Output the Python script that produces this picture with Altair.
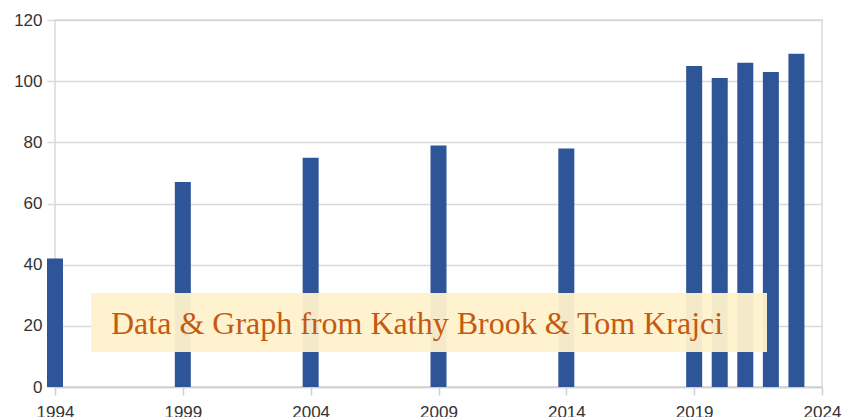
import altair as alt
import pandas as pd

years = [1994, 1999, 2004, 2009, 2014, 2019, 2020, 2021, 2022, 2023]
values = [42, 67, 75, 79, 78, 105, 101, 106, 103, 109]
x_ticks = [1994, 1999, 2004, 2009, 2014, 2019, 2024]
y_ticks = [0, 20, 40, 60, 80, 100, 120]
note = "Data & Graph from Kathy Brook & Tom Krajci"

df = pd.DataFrame({"year": years, "value": values})

W, H = 767, 367

bars = alt.Chart(df).mark_bar(size=16, color="#2E5597").encode(
    x=alt.X("year:Q", scale=alt.Scale(domain=[1994, 2024], nice=False, zero=False, padding=0),
            axis=alt.Axis(values=x_ticks, format="d", title=None, grid=False,
                          labelFlush=False, labelOverlap=False,
                          tickSize=8, tickColor="#d0d0d0", tickWidth=1.5,
                          domainColor="#d0d0d0", domainWidth=1.5,
                          labelPadding=9, labelFontSize=17, labelFont="Liberation Sans",
                          labelColor="#333333")),
    y=alt.Y("value:Q", scale=alt.Scale(domain=[0, 120], nice=False),
            axis=alt.Axis(values=y_ticks, title=None, grid=True, gridColor="#d9d9d9",
                          gridWidth=1.5, domain=False, labelFlush=False,
                          tickSize=8, tickColor="#d9d9d9", tickWidth=1.5,
                          labelPadding=5, labelFontSize=17, labelFont="Liberation Sans",
                          labelColor="#333333")),
)

box = alt.Chart(pd.DataFrame({"t": [note]})).mark_rect(color="#FFF2CC", opacity=0.95).encode(
    x=alt.value(36), x2=alt.value(712), y=alt.value(273), y2=alt.value(332)
)

label = alt.Chart(pd.DataFrame({"t": [note]})).mark_text(
    font="Liberation Serif", fontSize=32, color="#C55A11", align="left", baseline="alphabetic"
).encode(x=alt.value(56), y=alt.value(314), text="t:N")

chart = alt.layer(bars, box, label).properties(
    width=W, height=H,
    autosize=alt.AutoSizeParams(type="none"),
    padding={"left": 47, "top": 12, "right": 24, "bottom": 30},
).configure_view(stroke="#d9d9d9", strokeWidth=1.5)

chart.save("out.html", embed_options={"renderer": "svg", "actions": False})
